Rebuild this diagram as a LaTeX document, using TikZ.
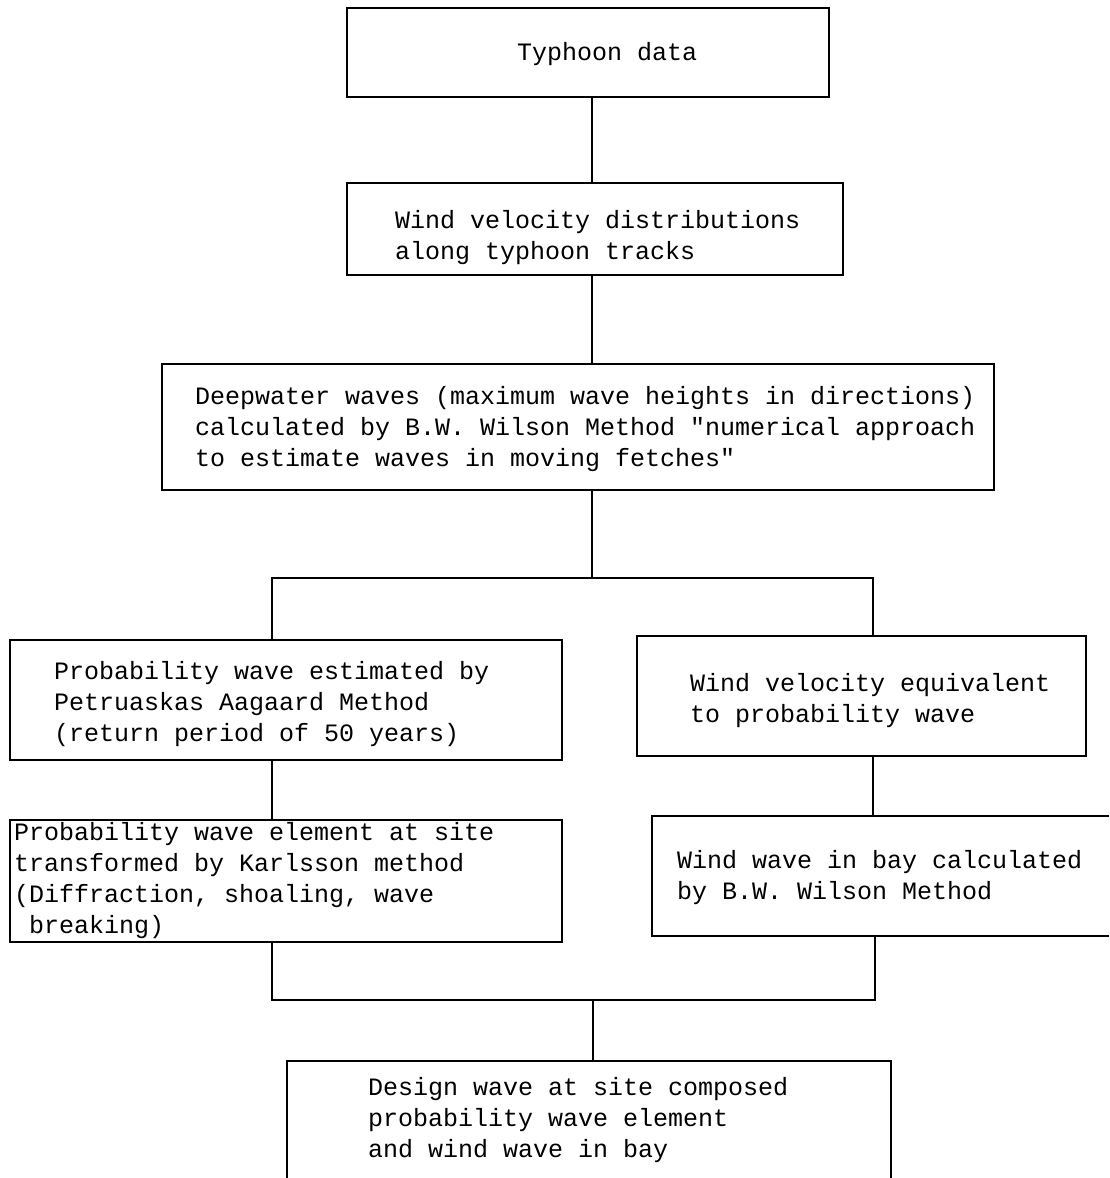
\documentclass[tikz,border=0pt]{standalone}
\usepackage{fontspec}
\newfontfamily\typew{Liberation Mono}
\begin{document}
\begin{tikzpicture}[x=1pt,y=-1pt,
  box/.style={draw, line width=2.6pt, anchor=north west, inner sep=0pt, outer sep=0pt},
  txt/.style={font=\fontsize{25}{31}\selectfont\typew, align=left, anchor=north west, inner sep=0pt},
  conn/.style={line width=2.6pt}]
\useasboundingbox (0,0) rectangle (1109,1178);
\clip (0,0) rectangle (1109,1178);
% boxes
\node[box, minimum width=482pt, minimum height=89pt]  (b1) at (347,8) {};
\node[box, minimum width=496pt, minimum height=92pt]  (b2) at (347,183) {};
\node[box, minimum width=832pt, minimum height=126pt] (b3) at (162,364) {};
\node[box, minimum width=552pt, minimum height=120pt] (b4) at (10,640) {};
\node[box, minimum width=449pt, minimum height=120pt] (b5) at (637,636) {};
\node[box, minimum width=552pt, minimum height=122pt] (b6) at (10,820) {};
\node[box, minimum width=468pt, minimum height=120pt] (b7) at (652,816) {};
\node[box, minimum width=604pt, minimum height=139pt] (b8) at (287,1061) {};
% texts
\node[txt] (t1) at (517,39) {\strut Typhoon data};
\node[txt] (t2) at (395,207) {\strut Wind velocity distributions\\\strut along typhoon tracks};
\node[txt] (t3) at (195,383) {\strut Deepwater waves (maximum wave heights in directions)\\\strut calculated by B.W. Wilson Method "numerical approach\\\strut to estimate waves in moving fetches"};
\node[txt] (t4) at (54,658) {\strut Probability wave estimated by\\\strut Petruaskas Aagaard Method\\\strut (return period of 50 years)};
\node[txt] (t5) at (690,670) {\strut Wind velocity equivalent\\\strut to probability wave};
\node[txt] (t6) at (14,819) {\strut Probability wave element at site\\\strut transformed by Karlsson method\\\strut (Diffraction, shoaling, wave\\\strut\hphantom{b}breaking)};
\node[txt] (t7) at (677,847) {\strut Wind wave in bay calculated\\\strut by B.W. Wilson Method};
\node[txt] (t8) at (368,1074) {\strut Design wave at site composed\\\strut probability wave element\\\strut and wind wave in bay};
% connectors
\coordinate (c1) at (592,0);
\coordinate (s1) at (592,578);
\coordinate (s1l) at (272,578);
\coordinate (s1r) at (873,578);
\coordinate (s2) at (593,1000);
\coordinate (s2l) at (272,1000);
\coordinate (s2r) at (875,1000);
\draw[conn] (b1.south -| c1) -- (b2.north -| c1);
\draw[conn] (b2.south -| c1) -- (b3.north -| c1);
\draw[conn] (b3.south -| s1) -- (s1);
\draw[conn] (b4.north -| s1l) -- (s1l) -- (s1r) -- (b5.north -| s1r);
\draw[conn] (b4.south -| s1l) -- (b6.north -| s1l);
\draw[conn] (b5.south -| s1r) -- (b7.north -| s1r);
\draw[conn] (b6.south -| s2l) -- (s2l) -- (s2r) -- (b7.south -| s2r);
\draw[conn] (s2) -- (b8.north -| s2);
\end{tikzpicture}
\end{document}
